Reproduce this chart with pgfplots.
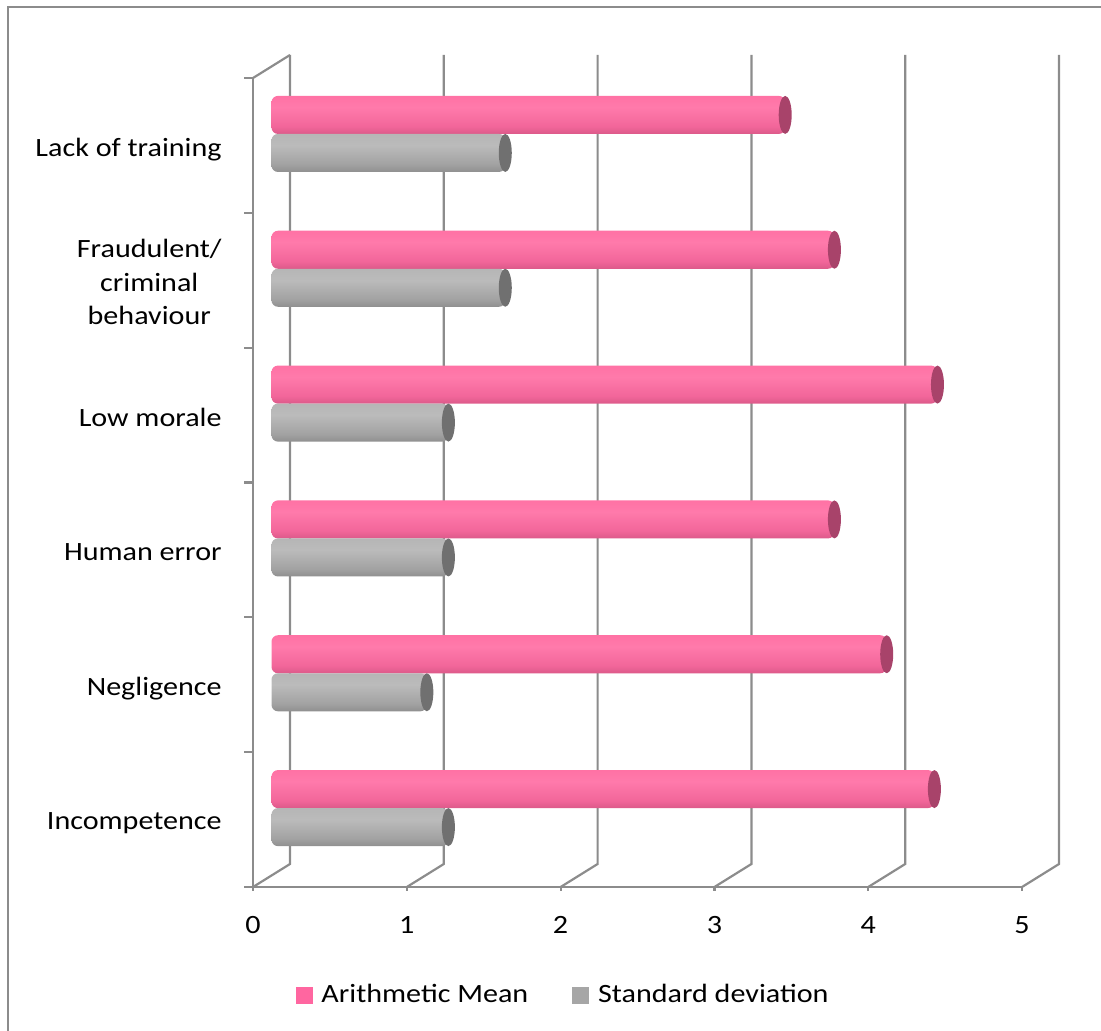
\documentclass[border=0pt]{standalone}
\usepackage{pgfplots}
\pgfplotsset{compat=1.18}
\usepackage{fontspec}
\setmainfont{Carlito}[FakeStretch=1.14]
\usetikzlibrary{shapes.geometric}

\definecolor{frameGray}{HTML}{8C8C8C}
\definecolor{meanCap}{HTML}{A8436A}
\definecolor{meanKey}{HTML}{FF66A0}
\definecolor{sdCap}{HTML}{707070}
\definecolor{sdKey}{HTML}{A6A6A6}
\definecolor{mA}{HTML}{983A5C}
\definecolor{mB}{HTML}{BF4A74}
\definecolor{mC}{HTML}{F2669A}
\definecolor{mD}{HTML}{FF7AAB}
\definecolor{mE}{HTML}{FF6CA0}
\definecolor{mF}{HTML}{E4578A}
\definecolor{sA}{HTML}{5E5E5E}
\definecolor{sB}{HTML}{777777}
\definecolor{sC}{HTML}{A2A2A2}
\definecolor{sD}{HTML}{BBBBBB}
\definecolor{sE}{HTML}{B2B2B2}
\definecolor{sF}{HTML}{989898}

% cylinder bodies: dark underside, bright band a little above the middle
\pgfdeclareverticalshading{meanCyl}{100bp}{color(0bp)=(mA); color(12bp)=(mB);
  color(35bp)=(mC); color(60bp)=(mD); color(85bp)=(mE); color(100bp)=(mF)}
\pgfdeclareverticalshading{sdCyl}{100bp}{color(0bp)=(sA); color(12bp)=(sB);
  color(35bp)=(sC); color(60bp)=(sD); color(85bp)=(sE); color(100bp)=(sF)}

\newcommand\chartfont{\fontsize{13.2}{16.75}\selectfont}

\pgfplotsset{
  plane/.style={scale only axis, width=384.5pt, height=404.5pt,
    xmin=0, xmax=5, ymin=-0.5, ymax=5.5, anchor=south west, clip=false},
  meanbar/.style={xbar, draw=none, shade, shading=meanCyl, bar width=0.282,
    bar shift=0.141, rounded corners=3.2pt, forget plot,
    nodes near coords={},
    every node near coord/.append style={shape=ellipse, fill=meanCap, draw=none,
      inner sep=0pt, minimum width=6.5pt, minimum height=19pt, anchor=center}},
  sdbar/.style={xbar, draw=none, shade, shading=sdCyl, bar width=0.282,
    bar shift=-0.141, rounded corners=3.2pt, forget plot,
    nodes near coords={},
    every node near coord/.append style={shape=ellipse, fill=sdCap, draw=none,
      inner sep=0pt, minimum width=6.5pt, minimum height=19pt, anchor=center}},
}
\tikzset{wallline/.style={frameGray, line width=1.1pt}}

\begin{document}
\begin{tikzpicture}
\useasboundingbox (0,0) rectangle (550.5pt,515pt);
\draw[frameGray, line width=1pt] (4pt,-2pt) -- (4pt,511.5pt) -- (553pt,511.5pt);

% front plane: walls, floor, tick labels
\begin{axis}[plane, at={(126.5pt,71.5pt)},
  axis line style={draw=none}, tick style={draw=none},
  xtick={0,...,5}, ytick={0,...,5},
  yticklabels={Incompetence, Negligence, Human error, Low morale,
    {Fraudulent/\\criminal\\behaviour}, Lack of training},
  /pgf/number format/assume math mode=true,
  ticklabel style={font=\chartfont},
  yticklabel style={align=center, anchor=east, inner sep=0pt, text depth=0.25em,
    xshift=-15.5pt, yshift=-2.2pt},
  xticklabel style={anchor=north, inner sep=0pt, yshift=-14.5pt},
]
\pgfplotsinvokeforeach{0,...,5}{
  \draw[wallline] (axis cs:#1,-0.5) -- ++(18.5pt,11.5pt)
    -- ([shift={(18.5pt,11.5pt)}]axis cs:#1,5.5);
  \draw[wallline] (axis cs:#1,-0.5) -- ++(0pt,-2pt);
}
\pgfplotsinvokeforeach{-0.5,0.5,1.5,2.5,3.5,4.5,5.5}{
  \draw[wallline] (axis cs:0,#1) -- ++(-4.5pt,0pt);
}
\draw[wallline] (axis cs:0,5.5) -- (axis cs:0,-0.5) -- (axis cs:5,-0.5);
\draw[wallline] (axis cs:0,5.5) -- ++(18.5pt,11.5pt);
\end{axis}

% cylinders, set halfway into the depth
\begin{axis}[plane, at={(135.75pt,77.25pt)}, hide axis, xbar,
  legend style={at={(0.3805,-0.1477)}, anchor=center, draw=none, fill=none,
    font=\chartfont, legend columns=2, inner sep=0pt,
    /tikz/every odd column/.append style={column sep=2.5pt},
    /tikz/every even column/.append style={column sep=20pt}},
]
% Arithmetic Mean (y: 0 = Incompetence ... 5 = Lack of training)
\addplot[meanbar] coordinates {(4.31,0)};
\addplot[meanbar] coordinates {(4.00,1)};
\addplot[meanbar] coordinates {(3.66,2)};
\addplot[meanbar] coordinates {(4.33,3)};
\addplot[meanbar] coordinates {(3.66,4)};
\addplot[meanbar] coordinates {(3.34,5)};
% Standard deviation
\addplot[sdbar] coordinates {(1.15,0)};
\addplot[sdbar] coordinates {(1.01,1)};
\addplot[sdbar] coordinates {(1.15,2)};
\addplot[sdbar] coordinates {(1.15,3)};
\addplot[sdbar] coordinates {(1.52,4)};
\addplot[sdbar] coordinates {(1.52,5)};

\addlegendimage{legend image code/.code={\fill[meanKey] (0pt,-4pt) rectangle (8pt,4pt);}}
\addlegendentry{Arithmetic Mean}
\addlegendimage{legend image code/.code={\fill[sdKey] (0pt,-4pt) rectangle (8pt,4pt);}}
\addlegendentry{Standard deviation}
\end{axis}
\end{tikzpicture}
\end{document}
